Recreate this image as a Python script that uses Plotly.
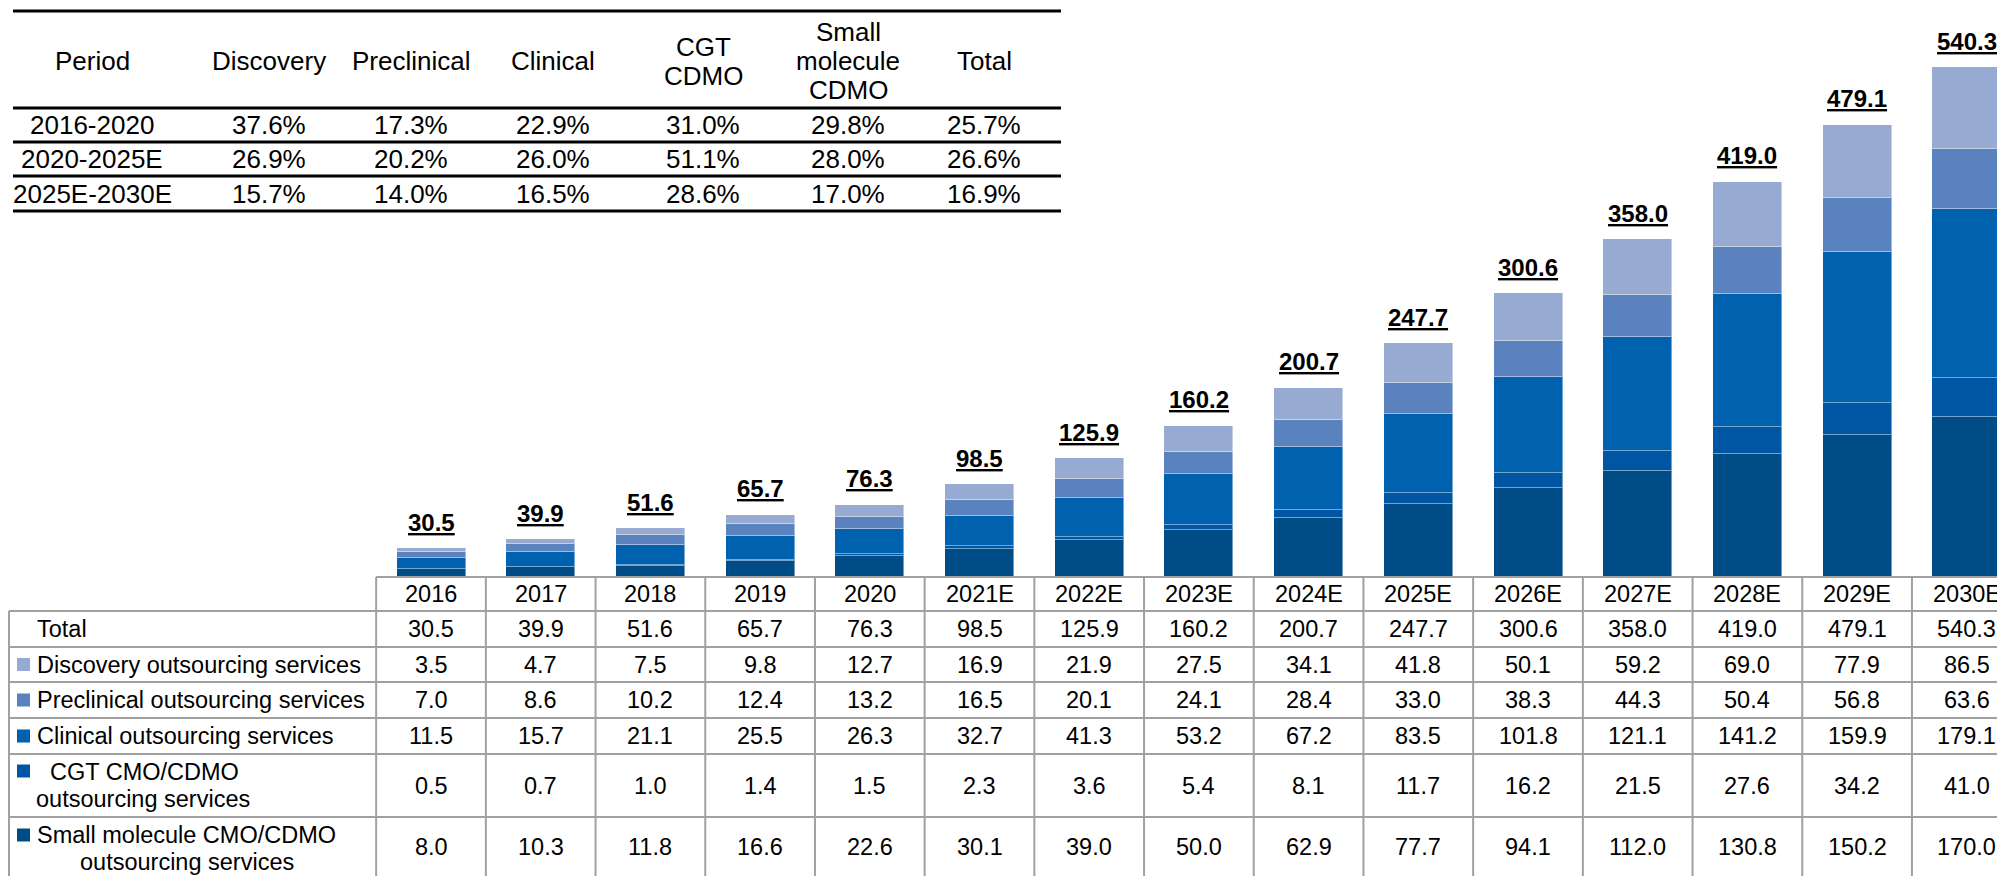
import plotly.graph_objects as go

# ---------------- data ----------------
years = ["2016", "2017", "2018", "2019", "2020", "2021E", "2022E", "2023E",
         "2024E", "2025E", "2026E", "2027E", "2028E", "2029E", "2030E"]
totals = [30.5, 39.9, 51.6, 65.7, 76.3, 98.5, 125.9, 160.2, 200.7, 247.7,
          300.6, 358.0, 419.0, 479.1, 540.3]
discovery = [3.5, 4.7, 7.5, 9.8, 12.7, 16.9, 21.9, 27.5, 34.1, 41.8, 50.1, 59.2, 69.0, 77.9, 86.5]
preclinical = [7.0, 8.6, 10.2, 12.4, 13.2, 16.5, 20.1, 24.1, 28.4, 33.0, 38.3, 44.3, 50.4, 56.8, 63.6]
clinical = [11.5, 15.7, 21.1, 25.5, 26.3, 32.7, 41.3, 53.2, 67.2, 83.5, 101.8, 121.1, 141.2, 159.9, 179.1]
cgt = [0.5, 0.7, 1.0, 1.4, 1.5, 2.3, 3.6, 5.4, 8.1, 11.7, 16.2, 21.5, 27.6, 34.2, 41.0]
small_molecule = [8.0, 10.3, 11.8, 16.6, 22.6, 30.1, 39.0, 50.0, 62.9, 77.7, 94.1, 112.0, 130.8, 150.2, 170.0]

series_names = ["Small molecule CMO/CDMO outsourcing services",
                "CGT CMO/CDMO outsourcing services",
                "Clinical outsourcing services",
                "Preclinical outsourcing services",
                "Discovery outsourcing services"]
series_colors = ["#004C87", "#0056A2", "#0061AF", "#5A82BF", "#96AAD2"]

cagr_header = ["Period", "Discovery", "Preclinical", "Clinical", "CGT<br>CDMO",
               "Small<br>molecule<br>CDMO", "Total"]
cagr_periods = ["2016-2020", "2020-2025E", "2025E-2030E"]
cagr_discovery = ["37.6%", "26.9%", "15.7%"]
cagr_preclinical = ["17.3%", "20.2%", "14.0%"]
cagr_clinical = ["22.9%", "26.0%", "16.5%"]
cagr_cgt = ["31.0%", "51.1%", "28.6%"]
cagr_small = ["29.8%", "28.0%", "17.0%"]
cagr_total = ["25.7%", "26.6%", "16.9%"]

# ---------------- layout helpers ----------------
W, H = 2005, 876
OFF = 8   # page body margin of the html page
FONT = "Liberation Sans, Arial, sans-serif"


def px_x(p):
    return (p - OFF) / W


def px_y(p):
    return 1 - (p - OFF) / H


BASE = 577          # window pixel row of the bar baseline
CAT_PX = 109.7      # pixel width of one category
X0_PX = 431         # window pixel centre of first category
UNIT_PX = 0.9439    # pixels per value unit

x_idx = list(range(len(years)))
x_range = [-(X0_PX - OFF) / CAT_PX, (W - (X0_PX - OFF)) / CAT_PX]
y_range = [0, (BASE - OFF) / UNIT_PX]

fig = go.Figure()
stack = [small_molecule, cgt, clinical, preclinical, discovery]
for vals, name, col in zip(stack, series_names, series_colors):
    fig.add_trace(go.Bar(
        x=x_idx, y=vals, name=name, width=0.629,
        marker=dict(color=col, line=dict(color="rgba(255,255,255,0.45)", width=1)),
        showlegend=False, hoverinfo="y+name"))

annotations = []
shapes = []

# total labels above bars
for i, t in enumerate(totals):
    annotations.append(dict(
        x=i, y=t, xref="x", yref="y", text=f"<b><u>{t:.1f}</u></b>",
        showarrow=False, xanchor="center", yanchor="middle", yshift=26,
        font=dict(family=FONT, size=24, color="#000000")))

# ---------------- bottom data table ----------------
GRAY = "#A0A0A0"
row_edges = [577, 611, 647, 682, 718, 754, 817, 876]
row_centers = [(a + b) / 2 for a, b in zip(row_edges[:-1], row_edges[1:])]
TFS = 23.5

for k in range(len(years) + 1):
    shapes.append(dict(type="line", xref="x", yref="paper",
                       x0=k - 0.5, x1=k - 0.5, y0=px_y(577), y1=0,
                       line=dict(color=GRAY, width=2)))
shapes.append(dict(type="line", xref="x", yref="paper", x0=-0.5, x1=len(years),
                   y0=px_y(577), y1=px_y(577), line=dict(color=GRAY, width=2)))
for e in row_edges[1:-1]:
    shapes.append(dict(type="line", xref="paper", yref="paper", x0=px_x(9), x1=1,
                       y0=px_y(e), y1=px_y(e), line=dict(color=GRAY, width=2)))
shapes.append(dict(type="line", xref="paper", yref="paper", x0=px_x(9), x1=px_x(9),
                   y0=px_y(611), y1=0, line=dict(color=GRAY, width=2)))

rows_vals = [totals, discovery, preclinical, clinical, cgt, small_molecule]
for i, yr in enumerate(years):
    annotations.append(dict(x=i, y=px_y(row_centers[0]), xref="x", yref="paper",
                            text=yr, showarrow=False, xanchor="center", yanchor="middle",
                            font=dict(family=FONT, size=TFS, color="#000")))
    for r, vals in enumerate(rows_vals):
        annotations.append(dict(x=i, y=px_y(row_centers[r + 1]), xref="x", yref="paper",
                                text=f"{vals[i]:.1f}", showarrow=False,
                                xanchor="center", yanchor="middle",
                                font=dict(family=FONT, size=TFS, color="#000")))

label_lines = [
    (35, row_centers[1], "Total"),
    (35, row_centers[2], "Discovery outsourcing services"),
    (35, row_centers[3], "Preclinical outsourcing services"),
    (35, row_centers[4], "Clinical outsourcing services"),
    (48, 772, "CGT CMO/CDMO"),
    (34, 799, "outsourcing services"),
    (35, 835, "Small molecule CMO/CDMO"),
    (78, 862, "outsourcing services"),
]
for lx, ly, txt in label_lines:
    annotations.append(dict(x=px_x(lx), y=px_y(ly), xref="paper", yref="paper",
                            text=txt, showarrow=False, xanchor="left", yanchor="middle",
                            font=dict(family=FONT, size=TFS, color="#000")))
marker_rows = [(row_centers[2], series_colors[4]), (row_centers[3], series_colors[3]),
               (row_centers[4], series_colors[2]), (771, series_colors[1]),
               (835, series_colors[0])]
for my, mc in marker_rows:
    shapes.append(dict(type="rect", xref="paper", yref="paper",
                       x0=px_x(17), x1=px_x(30), y0=px_y(my - 6.5), y1=px_y(my + 6.5),
                       fillcolor=mc, line=dict(width=0)))

# ---------------- top CAGR table ----------------
TOPFS = 26
col_cx = [92, 269, 411, 553, 703, 848, 984]
for e in [11, 108, 142, 176, 211]:
    shapes.append(dict(type="line", xref="paper", yref="paper", x0=px_x(13), x1=px_x(1061),
                       y0=px_y(e), y1=px_y(e), line=dict(color="#000000", width=3)))
LINE_H = 29
for cx, hdr in zip(col_cx, cagr_header):
    parts = hdr.split("<br>")
    n = len(parts)
    for j, p in enumerate(parts):
        cy = 61 + (j - (n - 1) / 2) * LINE_H
        annotations.append(dict(x=px_x(cx), y=px_y(cy), xref="paper", yref="paper",
                                text=p, showarrow=False, xanchor="center", yanchor="middle",
                                font=dict(family=FONT, size=TOPFS, color="#000")))
cagr_cols = [cagr_periods, cagr_discovery, cagr_preclinical, cagr_clinical,
             cagr_cgt, cagr_small, cagr_total]
top_row_cy = [125, 159, 193.5]
for cx, col in zip(col_cx, cagr_cols):
    for cy, v in zip(top_row_cy, col):
        annotations.append(dict(x=px_x(cx), y=px_y(cy), xref="paper", yref="paper",
                                text=v, showarrow=False, xanchor="center", yanchor="middle",
                                font=dict(family=FONT, size=TOPFS, color="#000")))

fig.update_layout(
    width=W, height=H, margin=dict(l=0, r=0, t=0, b=0),
    barmode="stack", bargap=0,
    paper_bgcolor="white", plot_bgcolor="white",
    xaxis=dict(range=x_range, visible=False, fixedrange=True),
    yaxis=dict(range=y_range, domain=[px_y(BASE), 1], visible=False, fixedrange=True),
    annotations=annotations, shapes=shapes,
    font=dict(family=FONT),
)

fig.write_html("out.html")
